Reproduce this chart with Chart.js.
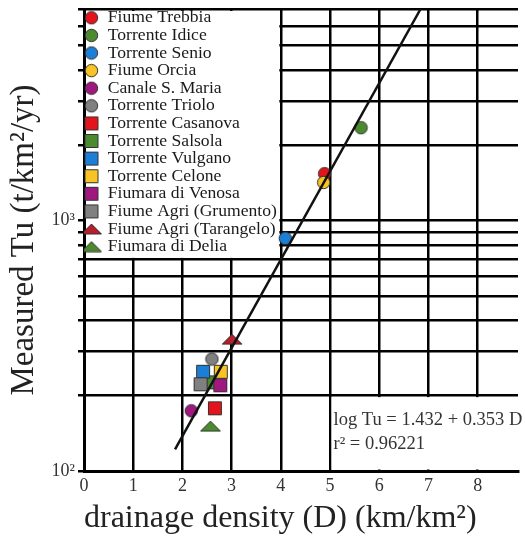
<!DOCTYPE html>
<html>
<head>
<meta charset="utf-8">
<script src="https://cdn.jsdelivr.net/npm/chart.js@4.4.1/dist/chart.umd.min.js"></script>
<style>
  html, body { margin: 0; padding: 0; background: #fff; }
</style>
</head>
<body>
<canvas id="sedChart" width="525" height="538"></canvas>
<script>
// ── Data ────────────────────────────────────────────────────
const riverNames = [
    'Fiume Trebbia', 'Torrente Idice', 'Torrente Senio', 'Fiume Orcia', 'Canale S. Maria',
    'Torrente Triolo', 'Torrente Casanova', 'Torrente Salsola', 'Torrente Vulgano',
    'Torrente Celone', 'Fiumara di Venosa', 'Fiume Agri (Grumento)', 'Fiume Agri (Tarangelo)',
    'Fiumara di Delia'
];
const densityD   = [4.89, 5.63, 4.09, 4.87, 2.18, 2.60, 2.66, 2.55, 2.42, 2.78, 2.77, 2.37, 3.01, 2.57];
const measuredTu = [1540, 2350, 850, 1420, 174, 280, 178, 226, 249, 249, 220, 222, 336, 151];
const markerShapes = [
    'circle', 'circle', 'circle', 'circle', 'circle', 'circle',
    'square', 'square', 'square', 'square', 'square', 'square',
    'triangle', 'triangle'
];
const markerColors = [
    '#e3141b', '#4b8b2e', '#1b7fd8', '#f7c325', '#a0177f', '#808080',
    '#e3141b', '#4b8b2e', '#1b7fd8', '#f7c325', '#a0177f', '#808080',
    '#b71f2b', '#4b8b2e'
];

const xTickValues = [0, 1, 2, 3, 4, 5, 6, 7, 8];
const yTickValues = [100, 200, 300, 400, 500, 600, 700, 800, 900, 1000, 2000, 3000, 4000, 5000, 6000, 7000];
const yTickLabels = { 100: '10²', 1000: '10³' };

// regression line ends (log Tu = 1.432 + 0.353 D)
const trendD  = [1.85, 6.84];
const trendTu = [122, 7000];
const fitText = ['log Tu = 1.432 + 0.353 D', 'r² = 0.96221'];

const SERIF = "'Liberation Serif', 'Times New Roman', serif";
Chart.defaults.font.family = SERIF;
Chart.defaults.color = '#222';

// small canvas sprites so the triangles can be flat like the original
function makeMarker(shape, color) {
    const c = document.createElement('canvas');
    const g = c.getContext('2d');
    if (shape === 'triangle') {
        c.width = 22; c.height = 12;
        g.beginPath();
        g.moveTo(11, 1); g.lineTo(21, 11); g.lineTo(1, 11); g.closePath();
    } else if (shape === 'square') {
        c.width = 16; c.height = 16;
        g.beginPath();
        g.rect(1.5, 1.5, 13, 13);
    } else {
        c.width = 15; c.height = 15;
        g.beginPath();
        g.arc(7.5, 7.5, 6.2, 0, Math.PI * 2);
    }
    g.fillStyle = color;
    g.fill();
    g.strokeStyle = '#333';
    g.lineWidth = 1;
    g.stroke();
    return c;
}

const datasets = riverNames.map((name, i) => ({
    label: name,
    data: [{ x: densityD[i], y: measuredTu[i] }],
    pointStyle: makeMarker(markerShapes[i], markerColors[i]),
    pointRadius: 6,
    order: -i // later rivers drawn on top
}));
datasets.push({
    label: 'fit',
    data: trendD.map((d, i) => ({ x: d, y: trendTu[i] })),
    showLine: true,
    borderColor: '#111',
    borderWidth: 2.5,
    pointRadius: 0,
    order: -100
});

// white panels for legend and equation, drawn over the grid
const panelPlugin = {
    id: 'panels',
    afterLayout(chart) {
        // the chartArea legend gets top = 0, pin it to the plot area
        chart.legend.top = chart.chartArea.top;
        chart.legend.bottom = chart.chartArea.bottom;
    },
    beforeDatasetsDraw(chart) {
        const { ctx, chartArea: a, scales: { x, y } } = chart;
        ctx.save();
        ctx.fillStyle = '#fff';
        const lx = a.left + 2, ly = a.top + 2;
        ctx.fillRect(lx, ly, x.getPixelForValue(4) - 1.5 - lx, y.getPixelForValue(700) - 1.5 - ly);
        const ex = x.getPixelForValue(5) + 1.5, ey = y.getPixelForValue(200) + 1.5;
        ctx.fillRect(ex, ey, a.right - ex, a.bottom - 1.5 - ey);
        ctx.fillStyle = '#333';
        ctx.font = '18.5px ' + SERIF;
        ctx.textBaseline = 'middle';
        ctx.fillText(fitText[0], ex + 2, ey + 23.5);
        ctx.fillText(fitText[1], ex + 2, ey + 47.5);
        ctx.restore();
        chart.legend.draw();
    }
};

new Chart(document.getElementById('sedChart'), {
    type: 'scatter',
    data: { datasets },
    plugins: [panelPlugin],
    options: {
        responsive: false,
        animation: false,
        events: [],
        layout: { padding: { top: 9, left: 0, right: 0, bottom: 0 } },
        plugins: {
            tooltip: { enabled: false },
            legend: {
                position: 'chartArea',
                align: 'start',
                labels: {
                    usePointStyle: true,
                    boxWidth: 15,
                    boxHeight: 9,
                    padding: 0,
                    color: '#1a1a1a',
                    font: { size: 17.6 },
                    filter: item => item.datasetIndex < riverNames.length,
                    sort: (a, b) => a.datasetIndex - b.datasetIndex
                }
            }
        },
        scales: {
            x: {
                type: 'linear',
                min: 0,
                max: 8.82,
                afterBuildTicks: s => { s.ticks = xTickValues.map(v => ({ value: v })); },
                afterFit: s => { s.height = 67; s.paddingLeft = 0; s.paddingRight = 0; },
                grid: { color: '#000', lineWidth: 2.5, drawTicks: false },
                border: { color: '#000', width: 3 },
                ticks: { color: '#333', font: { size: 18 }, padding: 4, autoSkip: false, maxRotation: 0 },
                title: {
                    display: true,
                    text: 'drainage density (D) (km/km²)',
                    align: 'start',
                    color: '#222',
                    font: { size: 32 },
                    padding: { top: 0, bottom: 0 }
                }
            },
            y: {
                type: 'logarithmic',
                min: 100,
                max: 7000,
                afterBuildTicks: s => { s.ticks = yTickValues.map(v => ({ value: v })); },
                afterFit: s => { s.width = 84; s.paddingTop = 0; s.paddingBottom = 0; },
                grid: { color: '#000', lineWidth: 2.5, drawTicks: true, tickLength: 6 },
                border: { color: '#000', width: 3 },
                ticks: {
                    autoSkip: false,
                    padding: 3,
                    color: '#333',
                    font: { size: 18 },
                    callback: v => yTickLabels[v] || ''
                },
                title: {
                    display: true,
                    text: 'Measured Tu (t/km²/yr)',
                    color: '#222',
                    font: { size: 33 },
                    padding: { top: 5, bottom: 0 }
                }
            }
        }
    }
});
</script>
</body>
</html>
